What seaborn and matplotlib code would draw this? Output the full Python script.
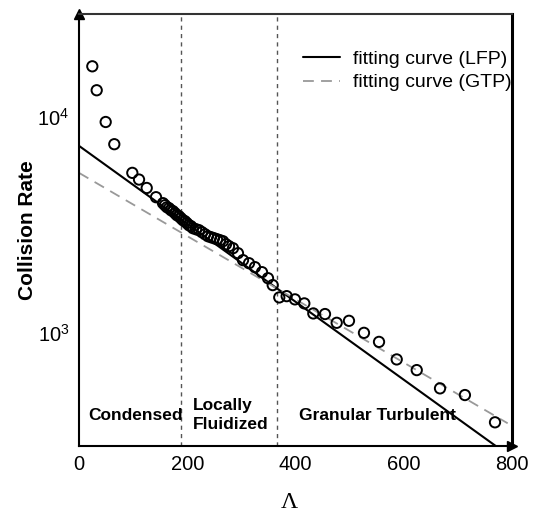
import numpy as np
import pandas as pd
import matplotlib
matplotlib.use("Agg")
import matplotlib.pyplot as plt
import seaborn as sns
from matplotlib.ticker import LogLocator, NullFormatter, FixedLocator

# ---------------- data ----------------
lam = [24.6, 32.7, 49.3, 65.2, 98.5, 110.9, 125.1, 142.3, 155.2,
       158.9, 162.6, 166.3, 170.0, 173.7, 177.4, 181.0, 184.7, 188.4,
       192.1, 195.8, 199.5, 203.2, 206.9, 210.6, 216.2, 221.7, 227.2,
       232.8, 238.3, 243.9, 249.4, 254.9, 260.5, 266.0, 271.6, 277.1,
       284.5, 293.7, 303.0, 314.1, 325.1, 338.1, 349.2,
       357.9, 370.0, 383.7, 399.0, 416.3, 432.9, 454.5, 476.1, 498.8,
       526.5, 554.3, 587.0, 624.0, 667.0, 713.0, 768.6]
rate = [17170, 13300, 9480, 7480, 5510, 5130, 4690, 4250, 3987,
        3902, 3819, 3779, 3700, 3660, 3583, 3507, 3470, 3396,
        3325, 3289, 3220, 3152, 3119, 3053, 3020, 2989, 2926,
        2863, 2803, 2773, 2744, 2715, 2686, 2657, 2574, 2520,
        2466, 2339, 2171, 2102, 2015, 1910, 1791,
        1664, 1459, 1479, 1429, 1369, 1230, 1222, 1113, 1137,
        1000, 908, 753, 672, 553, 515, 385]

lfp_x = [0, 800]
lfp_y = [7350, 264]
gtp_x = [0, 792]
gtp_y = [5510, 381]

phase_bounds = [188, 365]
x_ticks = [0, 200, 400, 600, 800]
x_minor = [100, 300, 500, 700]

# ---------------- style ----------------
sns.set_theme(style="white")
plt.rcParams['font.family'] = ['Liberation Sans', 'DejaVu Sans']
plt.rcParams['mathtext.fontset'] = 'custom'
plt.rcParams['mathtext.rm'] = 'Liberation Sans'
plt.rcParams['text.color'] = 'black'
plt.rcParams['axes.labelcolor'] = 'black'
plt.rcParams['xtick.color'] = 'black'
plt.rcParams['ytick.color'] = 'black'

fig = plt.figure(figsize=(5.4, 5.14), dpi=100)
ax = fig.add_axes([79/540, 1-445.7/514, (512-79)/540, (445.7-14)/514])
ax.set_yscale('log')

df_pts = pd.DataFrame({'x': lam, 'y': rate})
df_lfp = pd.DataFrame({'x': lfp_x, 'y': lfp_y})
df_gtp = pd.DataFrame({'x': gtp_x, 'y': gtp_y})

sns.lineplot(data=df_lfp, x='x', y='y', ax=ax, color='black', lw=1.5,
             label='fitting curve (LFP)', zorder=2)
sns.lineplot(data=df_gtp, x='x', y='y', ax=ax, color='#999999', lw=1.3,
             label='fitting curve (GTP)', zorder=2)
ax.lines[-1].set_dashes([6, 4])
sns.scatterplot(data=df_pts, x='x', y='y', ax=ax, marker='o', s=55,
                facecolor='none', edgecolor='black', linewidth=1.4,
                zorder=3, legend=False)

for b in phase_bounds:
    ax.axvline(b, color='#555555', lw=1.0, ls=(0, (3, 3)), zorder=1)

ax.set_xlim(0, 800)
ax.set_ylim(300, 30000)

ax.xaxis.set_major_locator(FixedLocator(x_ticks))
ax.xaxis.set_minor_locator(FixedLocator(x_minor))
ax.yaxis.set_major_locator(LogLocator(base=10, numticks=10))
ax.yaxis.set_minor_locator(LogLocator(base=10, subs=np.arange(2, 10), numticks=20))
ax.yaxis.set_minor_formatter(NullFormatter())

ax.tick_params(axis='both', which='both', direction='in', top=False, right=False,
               labelsize=14.5, colors='black', width=1.2)
ax.tick_params(axis='both', which='major', length=6, pad=7)
ax.tick_params(axis='x', which='minor', length=6)
ax.tick_params(axis='y', which='minor', length=3.5)

for s in ['left', 'bottom', 'top']:
    ax.spines[s].set_linewidth(1.5)
    ax.spines[s].set_color('black')
ax.spines['top'].set_color('#333333')
ax.spines['right'].set_linewidth(2.2)
ax.spines['right'].set_color('black')

# axis arrows
ax.plot([0], [1.0], marker='^', color='black', markersize=7,
        transform=ax.transAxes, clip_on=False)
ax.plot([1.0], [0], marker='>', color='black', markersize=7,
        transform=ax.transAxes, clip_on=False)

ax.set_xlabel('')
ax.set_ylabel('Collision Rate', fontsize=15, fontweight='bold', labelpad=0,
              color='black')

fig.text(289/540, 1-502/514, 'Λ', family=['Liberation Serif', 'DejaVu Serif'],
         fontsize=17, ha='center', va='center', color='black')

ax.text(16.6, 413, 'Condensed', fontsize=12.5, fontweight='bold', va='center',
        ha='left', color='black')
ax.text(210.6, 418, 'Locally\nFluidized', fontsize=12.5, fontweight='bold',
        va='center', ha='left', linespacing=1.35, color='black')
ax.text(406.4, 413, 'Granular Turbulent', fontsize=12.5, fontweight='bold',
        va='center', ha='left', color='black')

leg = ax.legend(loc='upper left', bbox_to_anchor=(303/540, 1-50/514),
                bbox_transform=fig.transFigure, frameon=False, fontsize=14,
                handlelength=1.9, handletextpad=0.68, labelspacing=0.32,
                borderpad=0, borderaxespad=0)
for t in leg.get_texts():
    t.set_color('black')

fig.savefig('out.png', dpi=100)
